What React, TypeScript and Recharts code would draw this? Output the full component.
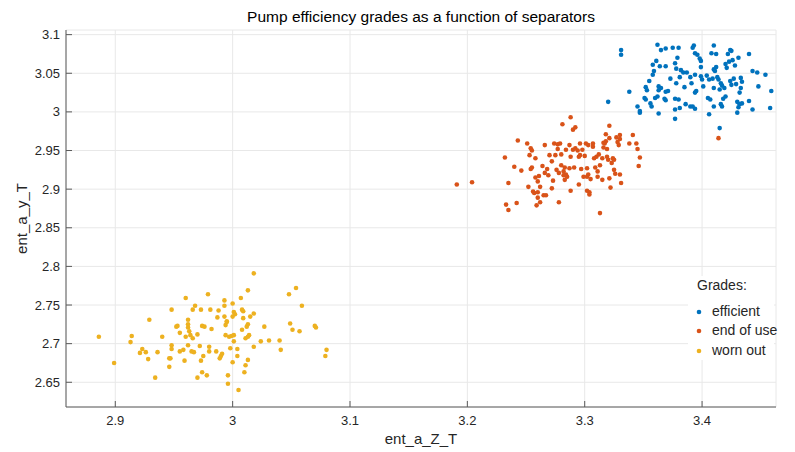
import { ScatterChart, Scatter, XAxis, YAxis, CartesianGrid, Label } from "recharts";

// points: [ent_a_Z_T, ent_a_y_T]
const efficient: [number, number][] = [
  [3.362, 3.087], [3.365, 3.08], [3.369, 3.082], [3.375, 3.083], [3.38, 3.083], [3.393, 3.086],
  [3.392, 3.083], [3.41, 3.086], [3.424, 3.08], [3.44, 3.075], [3.331, 3.08], [3.331, 3.074],
  [3.394, 3.076], [3.396, 3.074], [3.408, 3.076], [3.412, 3.075], [3.422, 3.075], [3.425, 3.079],
  [3.379, 3.07], [3.398, 3.069], [3.399, 3.066], [3.426, 3.067], [3.431, 3.07], [3.423, 3.065],
  [3.42, 3.062], [3.361, 3.066], [3.358, 3.061], [3.364, 3.059], [3.369, 3.059], [3.377, 3.063],
  [3.378, 3.056], [3.399, 3.058], [3.412, 3.058], [3.41, 3.055], [3.411, 3.053], [3.421, 3.057],
  [3.428, 3.06], [3.443, 3.053], [3.359, 3.053], [3.358, 3.048], [3.382, 3.054], [3.384, 3.051],
  [3.387, 3.051], [3.39, 3.045], [3.394, 3.048], [3.399, 3.046], [3.4, 3.042], [3.404, 3.047],
  [3.406, 3.042], [3.409, 3.043], [3.413, 3.045], [3.414, 3.042], [3.416, 3.037], [3.417, 3.034],
  [3.424, 3.04], [3.427, 3.043], [3.429, 3.036], [3.433, 3.044], [3.434, 3.039], [3.447, 3.051],
  [3.454, 3.048], [3.373, 3.043], [3.381, 3.045], [3.355, 3.04], [3.352, 3.032], [3.353, 3.028],
  [3.363, 3.033], [3.363, 3.028], [3.365, 3.031], [3.369, 3.026], [3.371, 3.027], [3.362, 3.02],
  [3.36, 3.018], [3.368, 3.017], [3.369, 3.015], [3.378, 3.037], [3.385, 3.032], [3.391, 3.037],
  [3.395, 3.027], [3.394, 3.025], [3.401, 3.033], [3.41, 3.031], [3.415, 3.029], [3.419, 3.031],
  [3.425, 3.035], [3.433, 3.031], [3.432, 3.025], [3.448, 3.033], [3.459, 3.027], [3.338, 3.026],
  [3.351, 3.018], [3.352, 3.016], [3.32, 3.013], [3.356, 3.011], [3.357, 3.007], [3.345, 3.007],
  [3.347, 3.001], [3.347, 2.999], [3.363, 2.998], [3.377, 3.017], [3.38, 3.016], [3.377, 3.003],
  [3.381, 3.005], [3.386, 3.01], [3.39, 3.007], [3.392, 3.007], [3.394, 3.004], [3.405, 3.018],
  [3.407, 3.016], [3.41, 3.007], [3.406, 2.997], [3.416, 3.01], [3.418, 3.017], [3.42, 3.02],
  [3.417, 3.007], [3.43, 3.013], [3.432, 3.01], [3.434, 3.011], [3.431, 3.006], [3.43, 2.999],
  [3.44, 3.014], [3.443, 3.003], [3.458, 3.005], [3.377, 2.991], [3.415, 2.979],
];

const endOfUse: [number, number][] = [
  [3.191, 2.906], [3.204, 2.909], [3.232, 2.941], [3.235, 2.908], [3.24, 2.929], [3.243, 2.963],
  [3.246, 2.924], [3.251, 2.959], [3.252, 2.903], [3.254, 2.953], [3.255, 2.95], [3.253, 2.944],
  [3.255, 2.928], [3.254, 2.926], [3.258, 2.94], [3.258, 2.915], [3.26, 2.91], [3.256, 2.897],
  [3.257, 2.895], [3.26, 2.896], [3.262, 2.903], [3.261, 2.917], [3.264, 2.93], [3.266, 2.957],
  [3.266, 2.921], [3.265, 2.892], [3.26, 2.889], [3.259, 2.879], [3.262, 2.883], [3.233, 2.88],
  [3.235, 2.873], [3.242, 2.882], [3.267, 2.892], [3.268, 2.926], [3.269, 2.918], [3.27, 2.944],
  [3.272, 2.936], [3.272, 2.901], [3.273, 2.911], [3.274, 2.959], [3.275, 2.944], [3.277, 2.952],
  [3.277, 2.958], [3.276, 2.925], [3.278, 2.921], [3.279, 2.959], [3.28, 2.945], [3.28, 2.931],
  [3.281, 2.984], [3.282, 2.918], [3.282, 2.923], [3.283, 2.912], [3.283, 2.928], [3.284, 2.919],
  [3.284, 2.951], [3.285, 2.916], [3.287, 2.957], [3.287, 2.927], [3.288, 2.942], [3.288, 2.993],
  [3.29, 2.951], [3.29, 2.977], [3.292, 2.98], [3.291, 2.928], [3.292, 2.953], [3.294, 2.95],
  [3.295, 2.942], [3.295, 2.906], [3.296, 2.944], [3.288, 2.898], [3.278, 2.883], [3.296, 2.959],
  [3.297, 2.926], [3.298, 2.951], [3.299, 2.916], [3.3, 2.943], [3.302, 2.916], [3.302, 2.927],
  [3.301, 2.959], [3.303, 2.957], [3.304, 2.896], [3.304, 2.893], [3.302, 2.898], [3.303, 2.919],
  [3.305, 2.913], [3.307, 2.959], [3.307, 2.955], [3.308, 2.94], [3.309, 2.928], [3.31, 2.942],
  [3.311, 2.923], [3.311, 2.916], [3.312, 2.945], [3.313, 2.931], [3.315, 2.912], [3.315, 2.94],
  [3.316, 2.96], [3.316, 2.954], [3.317, 2.959], [3.318, 2.962], [3.318, 2.971], [3.319, 2.952],
  [3.319, 2.942], [3.32, 2.938], [3.321, 2.966], [3.321, 2.982], [3.321, 2.914], [3.322, 2.902],
  [3.323, 2.934], [3.324, 2.94], [3.325, 2.925], [3.325, 2.938], [3.327, 2.967], [3.328, 2.961],
  [3.329, 2.957], [3.33, 2.919], [3.331, 2.908], [3.326, 2.92], [3.33, 2.965], [3.33, 2.97],
  [3.338, 2.959], [3.341, 2.97], [3.344, 2.959], [3.345, 2.952], [3.347, 2.941], [3.346, 2.93],
  [3.313, 2.869], [3.414, 2.966],
];

const wornOut: [number, number][] = [
  [2.886, 2.709], [2.899, 2.675], [2.914, 2.71], [2.913, 2.702], [2.923, 2.693], [2.921, 2.688],
  [2.926, 2.689], [2.928, 2.68], [2.929, 2.731], [2.934, 2.656], [2.936, 2.689], [2.94, 2.709],
  [2.946, 2.67], [2.946, 2.681], [2.947, 2.681], [2.948, 2.698], [2.948, 2.693], [2.948, 2.744],
  [2.952, 2.722], [2.953, 2.723], [2.955, 2.714], [2.955, 2.69], [2.959, 2.678], [2.958, 2.692],
  [2.96, 2.709], [2.96, 2.759], [2.962, 2.698], [2.962, 2.731], [2.962, 2.725], [2.962, 2.721],
  [2.963, 2.716], [2.964, 2.711], [2.965, 2.69], [2.966, 2.744], [2.966, 2.707], [2.967, 2.689],
  [2.968, 2.749], [2.97, 2.712], [2.97, 2.656], [2.972, 2.697], [2.973, 2.678], [2.973, 2.744],
  [2.974, 2.663], [2.975, 2.684], [2.974, 2.723], [2.976, 2.722], [2.978, 2.659], [2.979, 2.764],
  [2.98, 2.69], [2.98, 2.696], [2.981, 2.744], [2.982, 2.719], [2.986, 2.69], [2.987, 2.734],
  [2.988, 2.743], [2.989, 2.681], [2.99, 2.684], [2.991, 2.687], [2.993, 2.749], [2.993, 2.735],
  [2.994, 2.711], [2.993, 2.756], [2.994, 2.724], [2.995, 2.729], [2.995, 2.728], [2.996, 2.659],
  [2.996, 2.648], [2.997, 2.709], [2.998, 2.694], [2.999, 2.71], [3.0, 2.676], [3.0, 2.752],
  [3.0, 2.735], [3.001, 2.711], [3.001, 2.741], [3.002, 2.738], [3.001, 2.703], [3.004, 2.693],
  [3.004, 2.684], [3.005, 2.64], [3.007, 2.759], [3.008, 2.744], [3.008, 2.718], [3.009, 2.733],
  [3.009, 2.742], [3.01, 2.663], [3.011, 2.672], [3.011, 2.707], [3.012, 2.722], [3.013, 2.769],
  [3.013, 2.709], [3.013, 2.725], [3.013, 2.679], [3.014, 2.711], [3.015, 2.735], [3.018, 2.791],
  [3.018, 2.696], [3.018, 2.739], [3.024, 2.703], [3.027, 2.722], [3.031, 2.704], [3.04, 2.704],
  [3.041, 2.692], [3.048, 2.764], [3.049, 2.726], [3.051, 2.718], [3.054, 2.772], [3.057, 2.716],
  [3.059, 2.749], [3.07, 2.723], [3.071, 2.721], [3.079, 2.684], [3.08, 2.692],
];

const xTicks = [2.9, 3, 3.1, 3.2, 3.3, 3.4];
const yTicks = [2.65, 2.7, 2.75, 2.8, 2.85, 2.9, 2.95, 3, 3.05, 3.1];

const FONT = "'Liberation Sans', Arial, Helvetica, sans-serif";
const axisColor = "#5a5a5a";
const textColor = "#262626";
const X_GAP = 9;
const Y_GAP = 6;
const TICK_LEN = 6;
const DOT_R = 2.3;

const grades = [
  { name: "efficient", color: "#0072BD", points: efficient },
  { name: "end of use", color: "#D95319", points: endOfUse },
  { name: "worn out", color: "#EDB120", points: wornOut },
];

const toRows = (pts: [number, number][]) => pts.map(([x, y]) => ({ x, y }));

const Dot = (color: string) => (props: any) =>
  <circle cx={props.cx} cy={props.cy} r={DOT_R} fill={color} />;

const XTick = ({ x, y, payload }: any) => (
  <g>
    <line x1={x} x2={x} y1={y - X_GAP} y2={y - X_GAP - TICK_LEN} stroke={axisColor} />
    <text x={x} y={y} dy="0.71em" textAnchor="middle" fontSize={13} fill={textColor} fontFamily={FONT}>
      {payload.value}
    </text>
  </g>
);

const YTick = ({ x, y, payload }: any) => (
  <g>
    <line x1={x + Y_GAP} x2={x + Y_GAP + TICK_LEN} y1={y} y2={y} stroke={axisColor} />
    <text x={x} y={y} dy="0.35em" textAnchor="end" fontSize={13} fill={textColor} fontFamily={FONT}>
      {payload.value}
    </text>
  </g>
);

// legend drawn as a plain box over the plot, like the MATLAB one (white, no border)
const GradeLegend = () => (
  <div
    style={{
      position: "absolute", left: 688, top: 276, width: 86, height: 84, background: "#fff",
      fontFamily: FONT, fontSize: 14, color: textColor, whiteSpace: "nowrap",
    }}
  >
    <div style={{ height: 19, lineHeight: "19px", paddingLeft: 9, marginBottom: 7 }}>Grades:</div>
    {grades.map((g) => (
      <div key={g.name} style={{ height: 19.3, lineHeight: "19px", display: "flex", alignItems: "center" }}>
        <svg width={24} height={19} style={{ flex: "none" }}>
          <circle cx={11} cy={10} r={DOT_R} fill={g.color} />
        </svg>
        <span>{g.name}</span>
      </div>
    ))}
  </div>
);

export default function App() {
  return (
    <div style={{ position: "absolute", left: 0, top: 0, width: 795, height: 452, background: "#fff" }}>
      <div
        style={{
          position: "absolute", left: 66, width: 710, top: 7, textAlign: "center",
          fontFamily: FONT, fontSize: 15.5, color: "#000", lineHeight: "19px",
        }}
      >
        Pump efficiency grades as a function of separators
      </div>
      <ScatterChart width={795} height={452} margin={{ top: 30, right: 19, bottom: 0, left: 16 }}>
        <CartesianGrid stroke="#e8e8e8" />
        <XAxis
          type="number"
          dataKey="x"
          domain={[2.858, 3.463]}
          ticks={xTicks}
          allowDataOverflow
          height={45}
          tickSize={0}
          tickMargin={X_GAP}
          tick={<XTick />}
          axisLine={{ stroke: axisColor }}
        >
          <Label value="ent_a_Z_T" position="center" dy={9} fontSize={15} fill={textColor} fontFamily={FONT} />
        </XAxis>
        <YAxis
          type="number"
          dataKey="y"
          domain={[2.618, 3.106]}
          ticks={yTicks}
          allowDataOverflow
          width={50}
          tickSize={0}
          tickMargin={Y_GAP}
          tick={<YTick />}
          axisLine={{ stroke: axisColor }}
        >
          <Label value="ent_a_y_T" position="center" angle={-90} dx={-19} fontSize={15} fill={textColor} fontFamily={FONT} />
        </YAxis>
        {grades.map((g) => (
          <Scatter
            key={g.name}
            name={g.name}
            data={toRows(g.points)}
            fill={g.color}
            shape={Dot(g.color)}
            isAnimationActive={false}
          />
        ))}
      </ScatterChart>
      <GradeLegend />
    </div>
  );
}
